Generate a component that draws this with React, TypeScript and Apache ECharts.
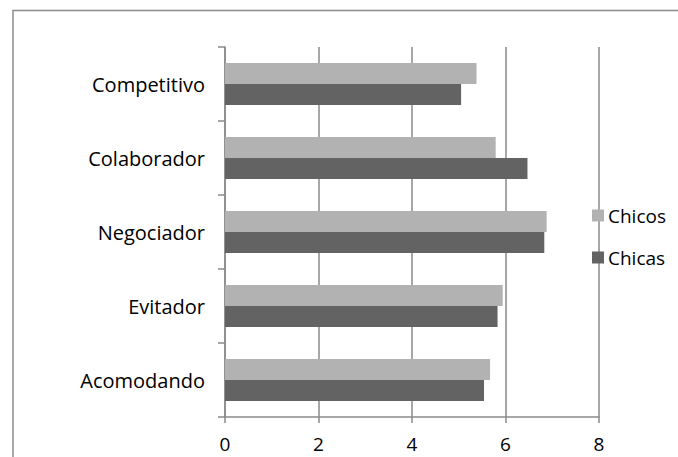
import React, { useEffect, useRef } from "react";
import * as echarts from "echarts";

const categories = ["Acomodando", "Evitador", "Negociador", "Colaborador", "Competitivo"];
const chicos = [5.67, 5.94, 6.88, 5.79, 5.38];
const chicas = [5.54, 5.83, 6.83, 6.47, 5.05];
const xTicks = [0, 2, 4, 6, 8];

const FONT = "'Open Sans', sans-serif";
const GRID_COLOR = "#8a8a8a";

export default function App() {
  const ref = useRef<HTMLDivElement>(null);
  useEffect(() => {
    document.body.style.margin = "0";
    if (!ref.current) return;
    const chart = echarts.init(ref.current, undefined, { renderer: "svg" });
    chart.setOption({
      animation: false,
      backgroundColor: "#ffffff",
      textStyle: { fontFamily: FONT },
      graphic: [
        {
          type: "rect",
          z: -10,
          shape: { x: 13, y: 10.5, width: 720, height: 520 },
          style: { fill: "none", stroke: "#8c8c8c", lineWidth: 1.5 },
          silent: true,
        },
      ],
      grid: { left: 225, right: 79, top: 47, bottom: 40, containLabel: false },
      legend: {
        orient: "vertical",
        left: 592,
        top: 206,
        padding: 0,
        itemWidth: 12,
        itemHeight: 12,
        itemGap: 23,
        icon: "rect",
        data: ["Chicos", "Chicas"],
        textStyle: { fontFamily: FONT, fontSize: 19, color: "#000", lineHeight: 19, padding: [0, 0, 0, -1] },
      },
      xAxis: {
        type: "value",
        min: xTicks[0],
        max: xTicks[xTicks.length - 1],
        interval: 2,
        axisLine: { show: true, lineStyle: { color: GRID_COLOR, width: 1.5 } },
        axisTick: { show: true, length: 6, lineStyle: { color: GRID_COLOR, width: 1.5 } },
        splitLine: { show: true, lineStyle: { color: GRID_COLOR, width: 1.5 } },
        axisLabel: { fontFamily: FONT, fontSize: 19, color: "#000", margin: 17 },
      },
      yAxis: {
        type: "category",
        data: categories,
        axisLine: { show: true, lineStyle: { color: GRID_COLOR, width: 1.5 } },
        axisTick: { show: true, length: 7, lineStyle: { color: GRID_COLOR, width: 1.5 } },
        axisLabel: { fontFamily: FONT, fontSize: 20, color: "#000", margin: 20 },
      },
      series: [
        {
          name: "Chicos",
          type: "bar",
          data: chicos,
          barWidth: 21,
          barGap: "0%",
          itemStyle: { color: "#b2b2b2" },
        },
        {
          name: "Chicas",
          type: "bar",
          data: chicas,
          barWidth: 21,
          barGap: "0%",
          itemStyle: { color: "#636363" },
        },
      ],
    });
    return () => chart.dispose();
  }, []);
  return <div ref={ref} style={{ width: 678, height: 457 }} />;
}
